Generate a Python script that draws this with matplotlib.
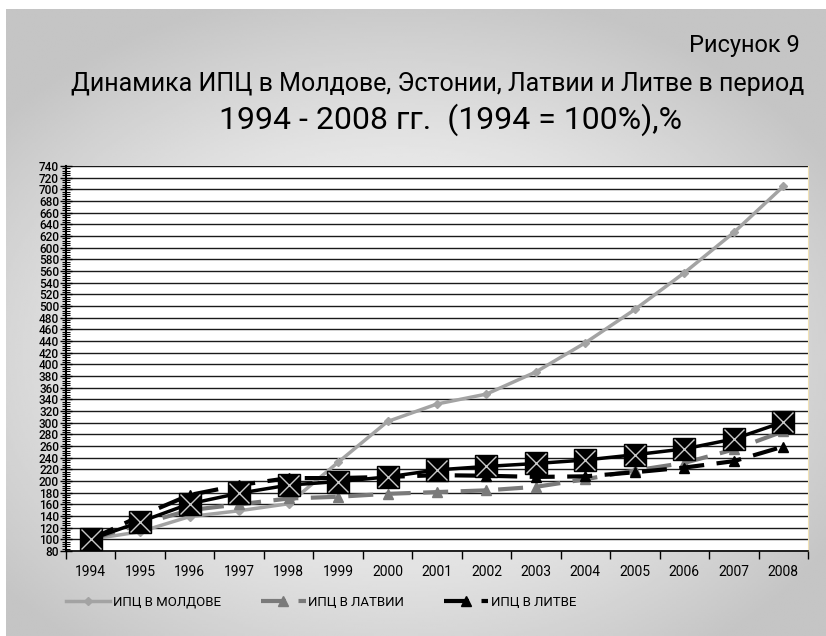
import numpy as np
import matplotlib
matplotlib.use('Agg')
import matplotlib.pyplot as plt
from matplotlib.ticker import MultipleLocator, FixedLocator

# ---------------------------------------------------------------
# Du lieu (doc tu hinh)
years = ['1994', '1995', '1996', '1997', '1998', '1999', '2000', '2001',
         '2002', '2003', '2004', '2005', '2006', '2007', '2008']
moldova   = [100, 113, 139, 149, 161, 232, 302, 332, 349, 387, 437, 494, 557, 626, 705]
estonia   = [100, 130, 161, 179, 193, 199, 207, 219, 225, 230, 236, 245, 255, 272, 301]
latvia    = [100, 126, 150, 160, 170, 173, 178, 181, 184, 190, 203, 218, 231, 254, 285]
lithuania = [100, 140, 176, 193, 205, 205, 207, 210, 209, 207, 208, 215, 223, 234, 259]

legend_labels = ['ИПЦ В МОЛДОВЕ', 'ИПЦ В ЛАТВИИ', 'ИПЦ В ЛИТВЕ']
fig_label = 'Рисунок 9'
title_1 = 'Динамика ИПЦ в Молдове, Эстонии, Латвии и Литве в период'
title_2 = '1994 - 2008 гг.  (1994 = 100%),%'

plt.rcParams['font.family'] = ['Roboto', 'DejaVu Sans']

fig = plt.figure(figsize=(8.26, 6.36), dpi=100)
fig.patch.set_facecolor('white')

# Nen gradient xam
bg = fig.add_axes([0.007, 0, 0.993, 0.986])
bg.set_axis_off()
gx, gy = np.meshgrid(np.linspace(-1, 1, 400), np.linspace(-1, 1, 300))
r = np.sqrt(((gx + 0.05) / 1.0) ** 2 + ((gy - 0.1) / 0.95) ** 2)
shade = 0.97 - 0.20 * np.clip(r - 0.25, 0, 1) ** 1.2
bg.imshow(shade, cmap='gray', vmin=0, vmax=1, aspect='auto',
          extent=[0, 1, 0, 1], origin='upper')
bg.set_xlim(0, 1)
bg.set_ylim(0, 1)

ax = fig.add_axes([66 / 826, 1 - 551 / 636, (808 - 66) / 826, (551 - 166) / 636])
ax.set_facecolor('white')
x = np.arange(len(years))

ax.plot(x, moldova, color='#a3a3a3', lw=2.5, marker='D', markersize=4.5,
        label=legend_labels[0], zorder=3)
ax.plot(x, latvia, color='#7a7a7a', lw=3, ls=(0, (6, 3)), marker='^',
        markersize=7, label=legend_labels[1], zorder=4)
ax.plot(x, lithuania, color='black', lw=3, ls=(0, (6, 3)), marker='^',
        markersize=7, label=legend_labels[2], zorder=5)
# Estonia - khong co trong chu thich
ax.plot(x, estonia, color='black', lw=2.5, marker='s', markersize=16, zorder=6)
ax.plot(x, estonia, ls='none', marker='x', markersize=14, mew=1,
        color='#c8c8c8', zorder=7)

ax.set_xlim(-0.5, len(years) - 0.5)
ax.set_ylim(80, 740)

ax.yaxis.set_major_locator(MultipleLocator(20))
ax.yaxis.set_minor_locator(MultipleLocator(4))
ax.grid(axis='y', color='#1a1a1a', lw=1.0, zorder=1)
ax.set_axisbelow(True)
ax.tick_params(axis='y', which='major', direction='inout', length=8, width=1,
               labelsize=8.5, pad=1)
ax.tick_params(axis='y', which='minor', direction='inout', length=6, width=0.8)
for lb in ax.get_yticklabels():
    lb.set_fontweight('medium')

ax.xaxis.set_major_locator(FixedLocator(np.arange(-0.5, len(years), 1)))
ax.set_xticks(x, minor=True)
ax.set_xticklabels(years, minor=True)
ax.xaxis.set_major_formatter(plt.NullFormatter())
ax.tick_params(axis='x', which='major', direction='out', length=6, width=1)
ax.tick_params(axis='x', which='minor', length=0, labelsize=10, pad=10)

ax.spines['top'].set_visible(False)
ax.spines['right'].set_color('#f1e2b5')
ax.spines['left'].set_linewidth(1.5)
ax.spines['bottom'].set_linewidth(1.2)

leg = fig.legend(loc='center left', bbox_to_anchor=(0.065, 0.053), ncol=3,
                 frameon=False, fontsize=9.5, handlelength=3.4,
                 handletextpad=0.2, columnspacing=3.0)

fig.text(0.968, 0.929, fig_label, ha='right', va='center', fontsize=17)
fig.text(0.53, 0.868, title_1, ha='center', va='center', fontsize=18)
fig.text(0.545, 0.812, title_2, ha='center', va='center', fontsize=23)

fig.savefig('out.png', dpi=100)
